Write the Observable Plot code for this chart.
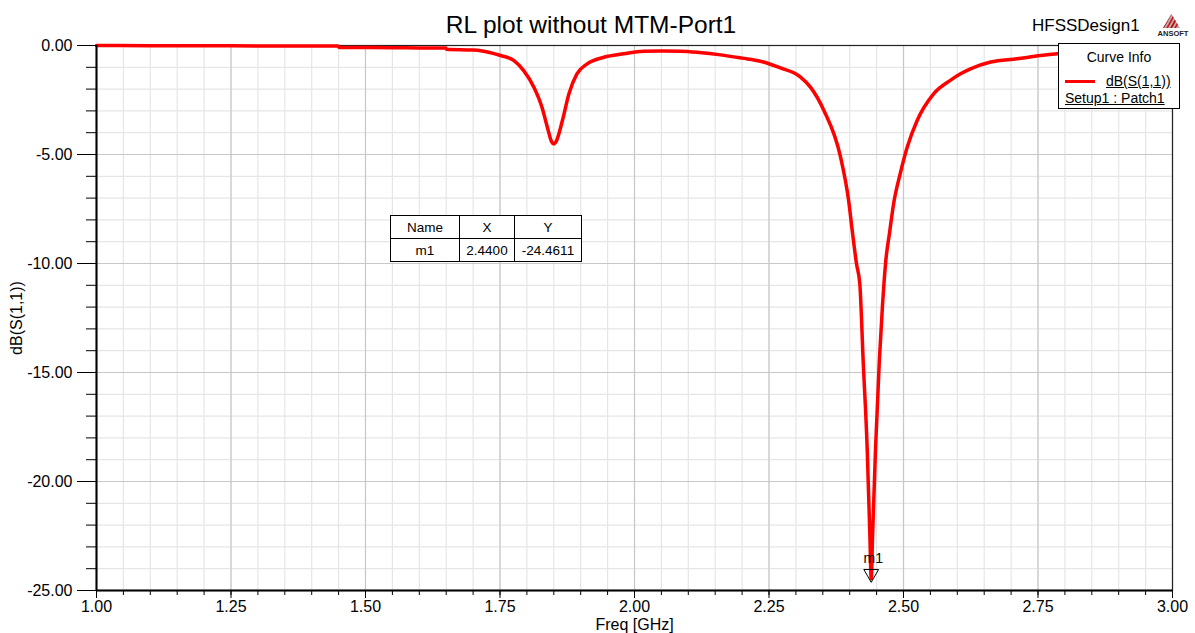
<!DOCTYPE html>
<html>
<head>
<meta charset="utf-8">
<script src="https://cdn.jsdelivr.net/npm/d3@7"></script>
<script src="https://cdn.jsdelivr.net/npm/@observablehq/plot@0.6"></script>
<style>
  body { margin: 0; background: white; font-family: "Liberation Sans", Arial, sans-serif; }
  #wrap { position: relative; width: 1195px; height: 633px; }
  .abs { position: absolute; white-space: nowrap; color: #000; }
  #title { left: 0; width: 1182px; text-align: center; top: 11px; font-size: 24.5px; }
  #design { left: 1032px; top: 16px; font-size: 17px; }
  #legend { left: 1058px; top: 43px; width: 120px; height: 64px; border: 1px solid #000; background: #fff; font-size: 14px; }
  #legend .hdr { position: absolute; left: 0; width: 120px; text-align: center; top: 5px; }
  #legend .sw { position: absolute; left: 6px; top: 36px; width: 30px; height: 3px; background: #ff0000; }
  #legend .nm { position: absolute; left: 47px; top: 29px; text-decoration: underline; }
  #legend .st { position: absolute; left: 6px; top: 46px; text-decoration: underline; }
  #mtable { left: 390px; top: 215px; border-collapse: collapse; background: #fff; font-size: 13.5px; }
  #mtable td { border: 1px solid #000; text-align: center; height: 22px; padding: 0; }
  #logo { left: 1156px; top: 12px; }
</style>
</head>
<body>
<div id="wrap">
  <div id="chart"></div>
</div>
<script>
// ---- data ----
const freq = [1.00, 1.10, 1.20, 1.30, 1.40, 1.449, 1.451, 1.50, 1.55, 1.60, 1.649, 1.651, 1.70, 1.714, 1.751, 1.776, 1.794, 1.813, 1.828, 1.838, 1.846, 1.850, 1.854, 1.866, 1.878, 1.893, 1.912, 1.943, 1.980, 2.017, 2.05, 2.085, 2.12, 2.16, 2.20, 2.234, 2.27, 2.3086, 2.327, 2.352, 2.383, 2.398, 2.4047, 2.4126, 2.4188, 2.425, 2.4325, 2.4375, 2.440, 2.4425, 2.448, 2.455, 2.461, 2.467, 2.474, 2.482, 2.494, 2.507, 2.5254, 2.556, 2.587, 2.606, 2.6245, 2.662, 2.711, 2.755, 2.786, 2.85, 2.92, 3.00];
const s11 = [0.00, -0.01, -0.01, -0.02, -0.02, -0.02, -0.09, -0.09, -0.10, -0.11, -0.12, -0.17, -0.21, -0.24, -0.46, -0.69, -1.15, -1.91, -2.83, -3.75, -4.42, -4.52, -4.42, -3.44, -2.22, -1.30, -0.84, -0.54, -0.38, -0.26, -0.25, -0.26, -0.32, -0.43, -0.58, -0.72, -1.02, -1.45, -1.91, -2.98, -5.12, -7.11, -8.49, -10.01, -10.93, -14.45, -18.5, -22.5, -24.4611, -22.5, -18.5, -14.5, -11.9, -9.9, -8.6, -7.2, -5.87, -4.66, -3.44, -2.22, -1.60, -1.30, -1.07, -0.76, -0.61, -0.46, -0.38, -0.30, -0.22, -0.17];
const majorX = [1.00, 1.25, 1.50, 1.75, 2.00, 2.25, 2.50, 2.75, 3.00];
const minorX = d3.range(0, 41).map(i => +(1 + i * 0.05).toFixed(2));
const majorY = [0, -5, -10, -15, -20, -25];
const minorY = d3.range(0, 26).map(i => -i);
const markerName = ["m1"];
const markerX = [2.44];
const markerY = [-24.4611];

const data = freq.map((f, i) => ({f, v: s11[i]}));
const markers = markerName.map((n, i) => ({n, x: markerX[i], y: markerY[i]}));

const chart = Plot.plot({
  width: 1195,
  height: 633,
  marginLeft: 96,
  marginRight: 23,
  marginTop: 45,
  marginBottom: 43,
  style: {fontFamily: "'Liberation Sans', Arial, sans-serif", fontSize: "16px", background: "transparent", color: "#000"},
  x: {domain: [1, 3], label: null},
  y: {domain: [-25, 0], label: null},
  marks: [
    Plot.gridX(minorX, {stroke: "#e6e6e6", strokeOpacity: 1, strokeWidth: 1.2}),
    Plot.gridY(minorY, {stroke: "#e6e6e6", strokeOpacity: 1, strokeWidth: 1.2}),
    Plot.gridX(majorX, {stroke: "#c8c8c8", strokeOpacity: 1, strokeWidth: 1.2}),
    Plot.gridY(majorY, {stroke: "#c8c8c8", strokeOpacity: 1, strokeWidth: 1.2}),
    Plot.frame({stroke: "#222", strokeWidth: 1.2}),
    Plot.line(data, {x: "f", y: "v", stroke: "#ff0000", strokeWidth: 3.5, curve: "monotone-x"}),
    Plot.dot(markers, {x: "x", y: "y", symbol: "triangle", rotate: 180, r: 5.5, stroke: "#000", strokeWidth: 1, fill: "none", dy: -5}),
    Plot.text(markers, {x: "x", y: "y", text: "n", dy: -20, dx: 2, fontSize: 14, fill: "#000"}),
    Plot.axisY(minorY, {tickSize: 10, tickFormat: () => "", label: null, stroke: "#000"}),
    Plot.axisY(majorY, {tickSize: 19, tickPadding: 5, tickFormat: d => d.toFixed(2), label: "dB(S(1,1))", labelArrow: "none", labelAnchor: "center", labelOffset: 86, fontSize: 16, stroke: "#000"}),
    Plot.axisX(minorX, {tickSize: 5, tickFormat: () => "", label: null, stroke: "#000"}),
    Plot.axisX(majorX, {tickSize: 8, tickPadding: 2, tickFormat: d => d.toFixed(2), label: "Freq [GHz]", labelArrow: "none", labelAnchor: "center", labelOffset: 39, fontSize: 16, stroke: "#000"}),
    Plot.ruleX([1], {stroke: "#000", strokeWidth: 2}),
    Plot.ruleY([-25], {stroke: "#000", strokeWidth: 2})
  ]
});
document.getElementById("chart").appendChild(chart);

const wrap = document.getElementById("wrap");
wrap.insertAdjacentHTML("beforeend", `
  <div class="abs" id="title">RL plot without MTM-Port1</div>
  <div class="abs" id="design">HFSSDesign1</div>
  <svg class="abs" id="logo" width="34" height="26" viewBox="0 0 34 26">
    <defs>
      <clipPath id="tri"><polygon points="7,16 24,16 15.5,2"/></clipPath>
    </defs>
    <g clip-path="url(#tri)">
      <rect x="0" y="0" width="34" height="20" fill="#b0b0b0"/>
      <line x1="6" y1="18" x2="16" y2="0" stroke="#c00000" stroke-width="1.6"/>
      <line x1="10" y1="18" x2="20" y2="0" stroke="#e01010" stroke-width="1.6"/>
      <line x1="14" y1="18" x2="24" y2="0" stroke="#c00000" stroke-width="1.6"/>
      <line x1="18" y1="18" x2="28" y2="0" stroke="#e01010" stroke-width="1.6"/>
    </g>
    <text x="17" y="23.5" text-anchor="middle" font-family="Liberation Sans, Arial, sans-serif" font-size="7.5" font-weight="bold" fill="#222">ANSOFT</text>
  </svg>
  <div class="abs" id="legend">
    <div class="hdr">Curve Info</div>
    <div class="sw"></div>
    <div class="nm">dB(S(1,1))</div>
    <div class="st">Setup1 : Patch1</div>
  </div>
  <table class="abs" id="mtable">
    <tr><td style="width:68px">Name</td><td style="width:54px">X</td><td style="width:66px">Y</td></tr>
    <tr><td>${markerName[0]}</td><td>${markerX[0].toFixed(4)}</td><td>${markerY[0].toFixed(4)}</td></tr>
  </table>
`);
</script>
</body>
</html>
